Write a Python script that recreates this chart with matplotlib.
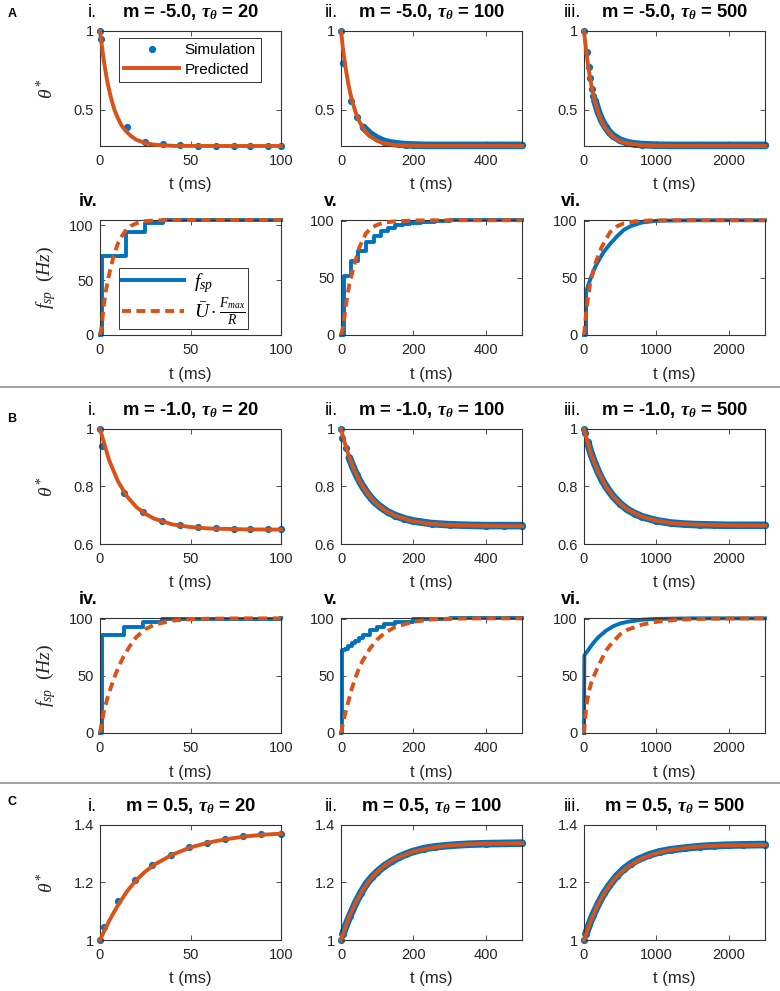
import matplotlib
matplotlib.use('Agg')
import matplotlib.pyplot as plt
from matplotlib.lines import Line2D
from matplotlib.font_manager import FontProperties
from matplotlib.mathtext import MathTextParser

plt.rcParams['font.family'] = ['Liberation Sans', 'DejaVu Sans']
plt.rcParams['mathtext.fontset'] = 'custom'
plt.rcParams['mathtext.rm'] = 'Liberation Serif'
plt.rcParams['mathtext.it'] = 'Liberation Serif:italic'
plt.rcParams['mathtext.bf'] = 'Liberation Serif:bold'
if 'mathtext.bfit' in plt.rcParams:
    plt.rcParams['mathtext.bfit'] = 'Liberation Serif:italic:bold'

TAU = r'$\mathbf{\tau_{\theta}}$'
try:
    MathTextParser('path').parse(r'$\mathbfit{\tau_{\theta}}$', 100, FontProperties())
    TAU = r'$\mathbfit{\tau_{\theta}}$'
except Exception:
    pass

BLUE = '#0072BD'
ORANGE = '#D95319'
AXC = '#333333'

# ---------------- data ----------------
m_labels = ['-5.0', '-1.0', '0.5']
tau_labels = ['20', '100', '500']
row_numerals_top = ['i.', 'ii.', 'iii.']
row_numerals_bot = ['iv.', 'v.', 'vi.']
x_max = [100, 500, 2500]
x_ticks = [[0, 50, 100], [0, 200, 400], [0, 1000, 2000]]
x_ticklabels = [['0', '50', '100'], ['0', '200', '400'], ['0', '1000', '2000']]

theta_ylims = [(0.272, 1.0), (0.6, 1.0), (1.0, 1.4)]
theta_yticks = [[0.5, 1.0], [0.6, 0.8, 1.0], [1.0, 1.2, 1.4]]
theta_yticklabels = [['0.5', '1'], ['0.6', '0.8', '1'], ['1', '1.2', '1.4']]
fsp_yticks = [0, 50, 100]
fsp_yticklabels = ['0', '50', '100']
fsp_ytop_A = [105, 100.7, 100.7]
fsp_ytop_B = [100.8, 100.8, 100.8]

# A: m = -5.0  (theta*)
A_i_sim_t = [0, 0.5, 15, 25, 35, 44, 54, 64, 74, 83, 93, 100]
A_i_sim_y = [1.0, 0.95, 0.39, 0.30, 0.282, 0.276, 0.275, 0.275, 0.275, 0.275, 0.275, 0.275]
A_i_pred_t = [0, 2, 4, 6, 8, 10, 12, 14, 17, 20, 25, 30, 40, 60, 100]
A_i_pred_y = [1.0, 0.82, 0.68, 0.58, 0.50, 0.445, 0.40, 0.37, 0.336, 0.312, 0.29, 0.28, 0.273, 0.272, 0.272]

A_ii_sim_t = [0, 6, 28, 43, 62, 80, 100, 120, 140, 160, 180, 200, 240, 280, 320, 360, 400, 440, 480, 500]
A_ii_sim_y = [1.0, 0.80, 0.56, 0.455, 0.39, 0.35, 0.32, 0.30, 0.29, 0.284, 0.28, 0.278, 0.276, 0.276, 0.276,
              0.276, 0.276, 0.276, 0.276, 0.276]
A_ii_pred_t = [0, 5, 10, 15, 20, 25, 30, 40, 50, 60, 70, 80, 100, 120, 150, 200, 300, 500]
A_ii_pred_y = [1.0, 0.897, 0.809, 0.734, 0.669, 0.612, 0.564, 0.488, 0.431, 0.388, 0.358, 0.335, 0.305,
               0.289, 0.278, 0.273, 0.272, 0.272]

A_iii_sim_t = [0, 41, 69, 79, 110, 124, 150, 200, 250, 300, 350, 400, 500, 600, 700, 800, 1000, 1200, 1400,
               1600, 1800, 2000, 2200, 2400, 2500]
A_iii_sim_y = [1.0, 0.865, 0.775, 0.70, 0.63, 0.59, 0.56, 0.485, 0.43, 0.39, 0.36, 0.337, 0.308, 0.293,
               0.285, 0.281, 0.277, 0.276, 0.276, 0.276, 0.276, 0.276, 0.276, 0.276, 0.276]
A_iii_pred_t = [0, 25, 50, 75, 100, 150, 200, 250, 300, 400, 500, 600, 800, 1000, 1500, 2500]
A_iii_pred_y = [1.0, 0.894, 0.804, 0.727, 0.661, 0.556, 0.479, 0.423, 0.382, 0.330, 0.302, 0.289, 0.277,
                0.273, 0.272, 0.272]

# A: m = -5.0  (f_sp)
A_iv_sim_t = [0, 1.3, 14.4, 25, 35, 100]
A_iv_sim_y = [0, 72, 94, 102, 105, 105]
A_iv_pred_t = [0, 1, 2, 3, 4, 5, 6, 8, 10, 12, 14, 17, 20, 25, 30, 40, 100]
A_iv_pred_y = [0, 8, 26, 38, 47, 55, 62, 75, 84, 90, 95, 99.5, 102, 104, 104.6, 105, 105]

A_v_sim_t = [0, 7, 28, 48, 69, 90, 110, 130, 150, 170, 190, 220, 260, 300, 500]
A_v_sim_y = [0, 52, 65, 73.5, 81, 87, 91, 94, 96, 97.5, 98.5, 99.3, 99.8, 100.3, 100.5]
A_v_pred_t = [0, 5, 10, 14, 23, 37, 51, 69, 85, 100, 120, 150, 200, 300, 500]
A_v_pred_y = [0, 6, 17, 27, 44.5, 62, 77, 89, 94, 96.5, 98.5, 99.5, 100.3, 100.5, 100.5]

A_vi_sim_t = [0, 28, 28, 60, 100, 150, 200, 270, 350, 450, 550, 650, 800, 1000, 1500, 2500]
A_vi_sim_y = [0, 0, 37, 44, 51, 59, 65, 72.5, 79, 86, 92, 95.5, 98.5, 100, 100.5, 100.5]
A_vi_pred_t = [0, 37, 83, 152, 244, 359, 450, 550, 700, 900, 1200, 1600, 2500]
A_vi_pred_y = [0, 24, 44.5, 62, 77, 90, 95, 97.8, 99.5, 100.3, 100.5, 100.5, 100.5]

# B: m = -1.0  (theta*)
B_i_sim_t = [0, 1.3, 13.3, 24, 34, 44, 54, 64, 74, 83, 93, 100]
B_i_sim_y = [1.0, 0.94, 0.777, 0.712, 0.68, 0.667, 0.66, 0.655, 0.653, 0.652, 0.652, 0.652]
B_i_pred_t = [0, 5, 10, 15, 20, 25, 30, 40, 50, 60, 80, 100]
B_i_pred_y = [1.0, 0.892, 0.817, 0.765, 0.729, 0.705, 0.688, 0.668, 0.659, 0.654, 0.651, 0.650]

B_ii_sim_t = [0, 3, 13, 23, 33, 43, 53, 63, 73, 83, 93, 110, 130, 150, 175, 200, 250, 300, 350, 400, 450, 500]
B_ii_sim_y = [1.0, 0.97, 0.935, 0.90, 0.868, 0.840, 0.815, 0.794, 0.776, 0.760, 0.746, 0.728, 0.711, 0.699,
              0.688, 0.680, 0.671, 0.667, 0.665, 0.664, 0.664, 0.664]
B_ii_pred_t = [0, 10, 20, 30, 40, 50, 60, 80, 100, 125, 150, 200, 250, 300, 400, 500]
B_ii_pred_y = [1.0, 0.953, 0.913, 0.878, 0.848, 0.822, 0.800, 0.764, 0.738, 0.714, 0.698, 0.679, 0.670,
               0.666, 0.663, 0.662]

B_iii_sim_t = [0, 15, 50, 100, 150, 200, 250, 300, 400, 500, 600, 700, 800, 1000, 1200, 1400, 1600, 1800,
               2000, 2200, 2400, 2500]
B_iii_sim_y = [1.0, 0.985, 0.955, 0.913, 0.879, 0.849, 0.823, 0.801, 0.766, 0.740, 0.720, 0.706, 0.695,
               0.681, 0.673, 0.669, 0.667, 0.666, 0.665, 0.665, 0.665, 0.665]
B_iii_pred_t = [0, 50, 100, 150, 200, 300, 400, 500, 600, 800, 1000, 1200, 1500, 2000, 2500]
B_iii_pred_y = [1.0, 0.955, 0.913, 0.879, 0.849, 0.801, 0.766, 0.740, 0.720, 0.695, 0.681, 0.673, 0.668,
                0.665, 0.664]

# B: m = -1.0  (f_sp)
B_iv_sim_t = [0, 1.3, 13.3, 24, 34, 44, 100]
B_iv_sim_y = [0, 85.5, 93, 97.5, 99.5, 100.3, 100.5]
B_iv_pred_t = [0, 2, 4, 6, 8, 10, 13, 16, 20, 25, 30, 40, 50, 60, 80, 100]
B_iv_pred_y = [0, 18, 30, 40, 49, 57, 67, 75, 84, 91, 95, 98.5, 99.7, 100.2, 100.5, 100.5]

B_v_sim_t = [0, 2, 10, 20, 30, 40, 50, 60, 80, 100, 120, 150, 200, 250, 300, 500]
B_v_sim_y = [0, 72.5, 74, 76, 78.5, 81, 83.5, 86, 90, 93, 95.5, 97.5, 99.5, 100.2, 100.5, 100.5]
B_v_pred_t = [0, 10, 20, 30, 40, 50, 60, 80, 100, 120, 150, 200, 250, 300, 400, 500]
B_v_pred_y = [0, 15, 27, 39, 48.5, 57, 63.5, 74, 82, 87.5, 93, 97.5, 99.5, 100.2, 100.5, 100.5]

B_vi_sim_t = [0, 5, 50, 100, 150, 200, 300, 400, 500, 600, 800, 1000, 1500, 2500]
B_vi_sim_y = [0, 68, 72, 76.5, 80.5, 84, 89.5, 93.5, 96, 97.5, 99.3, 100, 100.5, 100.5]
B_vi_pred_t = [0, 20, 40, 70, 100, 150, 200, 300, 400, 500, 600, 800, 1000, 1300, 1700, 2500]
B_vi_pred_y = [0, 15, 27, 37, 44, 52, 59, 72, 80, 86.5, 90.5, 95, 97.5, 99.3, 100.2, 100.5]

# C: m = 0.5  (theta*)
C_i_sim_t = [0, 2, 10, 19.5, 29, 39, 49, 59, 69, 79, 89, 100]
C_i_sim_y = [1.0, 1.046, 1.137, 1.207, 1.26, 1.295, 1.322, 1.339, 1.351, 1.361, 1.367, 1.37]
C_i_pred_t = [0, 5, 10, 15, 20, 25, 30, 40, 50, 60, 70, 80, 90, 100]
C_i_pred_y = [1.0, 1.066, 1.122, 1.170, 1.208, 1.238, 1.262, 1.297, 1.322, 1.339, 1.351, 1.360, 1.366, 1.370]

C_ii_sim_t = [0, 5, 15, 25, 40, 55, 70, 85, 100, 120, 140, 160, 180, 200, 230, 260, 300, 350, 400, 450, 500]
C_ii_sim_y = [1.0, 1.02, 1.055, 1.085, 1.128, 1.164, 1.195, 1.218, 1.237, 1.258, 1.274, 1.288, 1.299, 1.308,
              1.318, 1.324, 1.329, 1.333, 1.335, 1.336, 1.337]
C_ii_pred_t = [0, 20, 40, 60, 80, 100, 125, 150, 200, 250, 300, 350, 400, 450, 500]
C_ii_pred_y = [1.0, 1.072, 1.129, 1.174, 1.209, 1.237, 1.263, 1.283, 1.308, 1.321, 1.329, 1.333, 1.335,
               1.336, 1.337]

C_iii_sim_t = [0, 25, 75, 125, 200, 275, 350, 450, 550, 650, 750, 900, 1050, 1200, 1400, 1600, 1800, 2000,
               2200, 2500]
C_iii_sim_y = [1.0, 1.02, 1.055, 1.087, 1.127, 1.162, 1.19, 1.222, 1.247, 1.266, 1.28, 1.296, 1.307, 1.314,
               1.32, 1.325, 1.328, 1.33, 1.331, 1.332]
C_iii_pred_t = [0, 100, 200, 300, 400, 500, 600, 800, 1000, 1200, 1500, 1800, 2100, 2500]
C_iii_pred_y = [1.0, 1.071, 1.127, 1.171, 1.206, 1.232, 1.254, 1.284, 1.302, 1.314, 1.323, 1.328, 1.330,
                1.331]

theta_data = [
    [(A_i_sim_t, A_i_sim_y, A_i_pred_t, A_i_pred_y),
     (A_ii_sim_t, A_ii_sim_y, A_ii_pred_t, A_ii_pred_y),
     (A_iii_sim_t, A_iii_sim_y, A_iii_pred_t, A_iii_pred_y)],
    [(B_i_sim_t, B_i_sim_y, B_i_pred_t, B_i_pred_y),
     (B_ii_sim_t, B_ii_sim_y, B_ii_pred_t, B_ii_pred_y),
     (B_iii_sim_t, B_iii_sim_y, B_iii_pred_t, B_iii_pred_y)],
    [(C_i_sim_t, C_i_sim_y, C_i_pred_t, C_i_pred_y),
     (C_ii_sim_t, C_ii_sim_y, C_ii_pred_t, C_ii_pred_y),
     (C_iii_sim_t, C_iii_sim_y, C_iii_pred_t, C_iii_pred_y)],
]
fsp_data = [
    [(A_iv_sim_t, A_iv_sim_y, A_iv_pred_t, A_iv_pred_y),
     (A_v_sim_t, A_v_sim_y, A_v_pred_t, A_v_pred_y),
     (A_vi_sim_t, A_vi_sim_y, A_vi_pred_t, A_vi_pred_y)],
    [(B_iv_sim_t, B_iv_sim_y, B_iv_pred_t, B_iv_pred_y),
     (B_v_sim_t, B_v_sim_y, B_v_pred_t, B_v_pred_y),
     (B_vi_sim_t, B_vi_sim_y, B_vi_pred_t, B_vi_pred_y)],
]

# ---------------- layout / style ----------------
W, H = 780, 991
fig = plt.figure(figsize=(W / 100, H / 100), dpi=100)

col_left = [100, 341, 584]
ax_w = 181
ax_h = 115
theta_tops = [31, 429, 825]
fsp_tops = [220, 618]
# index of the first simulation point from which the dots are dense
dense_from = [[None, 4, 6], [None, 3, 2], [None, 1, 1]]


def fx(px):
    return px / W


def fy(py):
    return 1 - py / H


def make_ax(left, top):
    return fig.add_axes([fx(left), fy(top + ax_h), ax_w / W, ax_h / H])


def style(ax, col, ylim, yticks, yticklabels, left, top):
    ax.set_xlim(0, x_max[col])
    ax.set_ylim(*ylim)
    ax.set_xticks(x_ticks[col])
    ax.set_xticklabels(x_ticklabels[col])
    ax.set_yticks(yticks)
    ax.set_yticklabels(yticklabels)
    ax.tick_params(direction='in', top=True, right=True, length=3.5, width=0.6,
                   colors=AXC, labelsize=10.5, labelcolor='#262626')
    ax.tick_params(axis='x', pad=5.5)
    ax.tick_params(axis='y', pad=4.5)
    for s in ax.spines.values():
        s.set_linewidth(0.8)
        s.set_color(AXC)
    fig.text(fx(left + ax_w / 2), fy(top + ax_h + 39), 't (ms)', ha='center', va='center',
             fontsize=12, color='#262626')


for r in range(3):
    for c in range(3):
        left = col_left[c]
        top = theta_tops[r]
        ax = make_ax(left, top)
        st, sy, pt, py = theta_data[r][c]
        k = dense_from[r][c]
        if k is not None:
            ax.plot(st[k:], sy[k:], '-', color=BLUE, lw=5.5, clip_on=False, zorder=2,
                    solid_capstyle='round')
        ax.plot(st, sy, 'o', color=BLUE, ms=5.2, mec=BLUE, mew=0, clip_on=False, zorder=2,
                label='Simulation')
        ax.plot(pt, py, '-', color=ORANGE, lw=2.8, clip_on=False, zorder=3, label='Predicted')
        style(ax, c, theta_ylims[r], theta_yticks[r], theta_yticklabels[r], left, top)
        fig.text(fx(left + ax_w / 2), fy(top - 14), 'm = ' + m_labels[r] + ', ' + TAU + ' = ' + tau_labels[c],
                 ha='center', va='baseline', fontsize=13.2, fontweight='bold', color='black')
        fig.text(fx(left - 3), fy(top - 14), row_numerals_top[c], ha='right', va='baseline',
                 fontsize=13, color='black')
        if c == 0:
            fig.text(fx(46), fy(top + ax_h / 2), r'$\theta^*$', rotation=90, ha='center', va='center',
                     fontsize=14, color='#262626')
        if r == 0 and c == 0:
            leg = ax.legend(loc='upper left', bbox_to_anchor=(0.105, 0.94), fontsize=11,
                            handlelength=3.6, handletextpad=0.35, borderpad=0.35, labelspacing=0.35,
                            fancybox=False, framealpha=1, edgecolor=AXC, borderaxespad=0)
            leg.get_frame().set_linewidth(0.7)

        if r < 2:
            top2 = fsp_tops[r]
            ax2 = make_ax(left, top2)
            st, sy, pt, py = fsp_data[r][c]
            ds = 'default' if c == 2 else 'steps-post'
            ax2.plot(st, sy, '-', drawstyle=ds, color=BLUE, lw=2.8, clip_on=False, zorder=2,
                     label=r'$f_{sp}$')
            ax2.plot(pt, py, '--', color=ORANGE, lw=2.8, dashes=(2.3, 1.4), clip_on=False, zorder=3,
                     label=r'$\bar{U}\cdot\frac{F_{max}}{R}$')
            ytop = fsp_ytop_A[c] if r == 0 else fsp_ytop_B[c]
            style(ax2, c, (0, ytop), fsp_yticks, fsp_yticklabels, left, top2)
            fig.text(fx(left - 3), fy(top2 - 14), row_numerals_bot[c], ha='right', va='baseline',
                     fontsize=13, fontweight='bold', color='black')
            if c == 0:
                fig.text(fx(46), fy(top2 + ax_h / 2), r'$f_{sp}\ \ (Hz)$', rotation=90, ha='center',
                         va='center', fontsize=14, color='#262626')
            if r == 0 and c == 0:
                leg = ax2.legend(loc='upper left', bbox_to_anchor=(0.105, 0.585), fontsize=14,
                                 handlelength=3.2, handletextpad=0.5, borderpad=0.15, labelspacing=0.0,
                                 borderaxespad=0, fancybox=False, framealpha=1, edgecolor=AXC)
                leg.get_frame().set_linewidth(0.7)

# panel letters
for letter, py in zip(['A', 'B', 'C'], [14, 419, 802]):
    fig.text(fx(12), fy(py), letter, ha='center', va='center', fontsize=9, fontweight='bold')

# separators
for py in [387, 783]:
    fig.add_artist(Line2D([0, 1], [fy(py), fy(py)], transform=fig.transFigure, color='#909090', lw=1.2))

fig.savefig('out.png', dpi=100)
